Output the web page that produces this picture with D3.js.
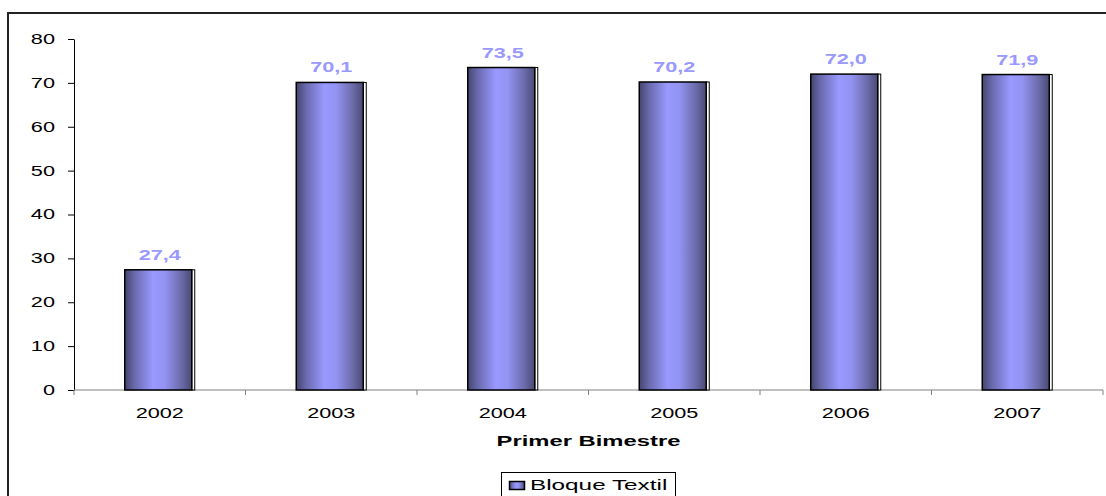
<!DOCTYPE html>
<html>
<head>
<meta charset="utf-8">
<script src="https://cdn.jsdelivr.net/npm/d3@7"></script>
<style>
  body { margin:0; background:#fff; }
  svg text { font-family: "Liberation Sans", Arial, sans-serif; }
</style>
</head>
<body>
<div class="svg-container"></div>
<script>
// data
const years = ['2002', '2003', '2004', '2005', '2006', '2007'];
const values = [27.4, 70.1, 73.5, 70.2, 72.0, 71.9];
const yTicks = [0, 10, 20, 30, 40, 50, 60, 70, 80];
const seriesName = 'Bloque Textil';
const xTitle = 'Primer Bimestre';

//required dimensions
const width = 1106;
const height = 496;
const plot = { left:74, right:1103, top:39, bottom:390 };
const stretch = 1.55; // text in the picture is wide

const svg = d3.select('.svg-container')
  .append('svg')
  .attr('width', width)
  .attr('height', height);

//gradient for the cylinder look
const grad = svg.append('defs').append('linearGradient')
  .attr('id', 'barGrad')
  .attr('x1', '0%').attr('x2', '100%').attr('y1', '0%').attr('y2', '0%');
[[0, '#45456f'], [0.15, '#6a6aae'], [0.42, '#9999ff'], [0.6, '#9393f2'], [0.85, '#6a6aa8'], [1, '#4a4a75']]
  .forEach(s => grad.append('stop').attr('offset', s[0]).attr('stop-color', s[1]));

//outer frame
svg.append('rect')
  .attr('x', 8).attr('y', 13)
  .attr('width', 1120).attr('height', 500)
  .attr('fill', 'none')
  .attr('stroke', '#222')
  .attr('stroke-width', 2);

//scales
const xScale = d3.scaleBand()
  .domain(years)
  .range([plot.left, plot.right]);

const yScale = d3.scaleLinear()
  .domain([0, 80])
  .range([plot.bottom, plot.top]);

//y axis
const yAxis = svg.append('g')
  .attr('transform', `translate(${plot.left},0)`)
  .call(d3.axisLeft(yScale).tickValues(yTicks).tickSize(6).tickSizeOuter(0).tickPadding(0));
yAxis.select('.domain').attr('stroke', '#000');
yAxis.selectAll('.tick line').attr('stroke', '#000');
yAxis.selectAll('.tick text')
  .attr('x', null)
  .attr('transform', `translate(-19,0) scale(${stretch},1)`)
  .attr('font-size', 14)
  .attr('font-family', '"Liberation Sans", Arial, sans-serif')
  .attr('fill', '#000');

//x axis line and boundary ticks
svg.append('line')
  .attr('x1', plot.left).attr('x2', plot.right)
  .attr('y1', plot.bottom).attr('y2', plot.bottom)
  .attr('stroke', '#808080');
const bounds = years.map(d => xScale(d)).concat([plot.right]);
svg.selectAll('.xtick')
  .data(bounds)
  .join('line')
  .attr('class', 'xtick')
  .attr('x1', d => d).attr('x2', d => d)
  .attr('y1', plot.bottom).attr('y2', plot.bottom + 5)
  .attr('stroke', '#808080');

//category labels
svg.selectAll('.xlab')
  .data(years)
  .join('text')
  .attr('class', 'xlab')
  .attr('transform', d => `translate(${xScale(d) + xScale.bandwidth()/2},418) scale(${stretch},1)`)
  .attr('text-anchor', 'middle')
  .attr('font-size', 14)
  .attr('fill', '#000')
  .text(d => d);

//axis title
svg.append('text')
  .attr('transform', `translate(${(plot.left+plot.right)/2},446) scale(1.7,1)`)
  .attr('text-anchor', 'middle')
  .attr('font-size', 14)
  .attr('font-weight', 'bold')
  .attr('fill', '#000')
  .text(xTitle);

//bars
const front = 67, side = 3;
const bx = d => xScale(d) + xScale.bandwidth()/2 - (front + side)/2;
const bars = svg.selectAll('.bar')
  .data(years.map((d, i) => ({ year:d, value:values[i] })))
  .join('g')
  .attr('class', 'bar');

bars.append('rect')
  .attr('x', d => bx(d.year) + front)
  .attr('y', d => yScale(d.value))
  .attr('width', side)
  .attr('height', d => plot.bottom - yScale(d.value))
  .attr('fill', '#fff')
  .attr('stroke', '#000')
  .attr('stroke-width', 1);

bars.append('rect')
  .attr('x', d => bx(d.year))
  .attr('y', d => yScale(d.value))
  .attr('width', front)
  .attr('height', d => plot.bottom - yScale(d.value))
  .attr('fill', 'url(#barGrad)')
  .attr('stroke', '#000')
  .attr('stroke-width', 1.5);

//value labels
bars.append('text')
  .attr('transform', d => `translate(${xScale(d.year) + xScale.bandwidth()/2},${yScale(d.value) - 10}) scale(${stretch},1)`)
  .attr('text-anchor', 'middle')
  .attr('font-size', 14)
  .attr('font-weight', 'bold')
  .attr('fill', '#9999ff')
  .text(d => d3.format('.1f')(d.value).replace('.', ','));

//legend
const legend = svg.append('g');
legend.append('rect')
  .attr('x', 501.5).attr('y', 472.5)
  .attr('width', 174).attr('height', 40)
  .attr('fill', '#fff')
  .attr('stroke', '#000');
legend.append('rect')
  .attr('x', 509.5).attr('y', 481.5)
  .attr('width', 15).attr('height', 8)
  .attr('fill', 'url(#barGrad)')
  .attr('stroke', '#000')
  .attr('stroke-width', 1.5);
legend.append('text')
  .attr('transform', `translate(530,490) scale(1.62,1)`)
  .attr('font-size', 15)
  .attr('fill', '#000')
  .text(seriesName);
</script>
</body>
</html>
